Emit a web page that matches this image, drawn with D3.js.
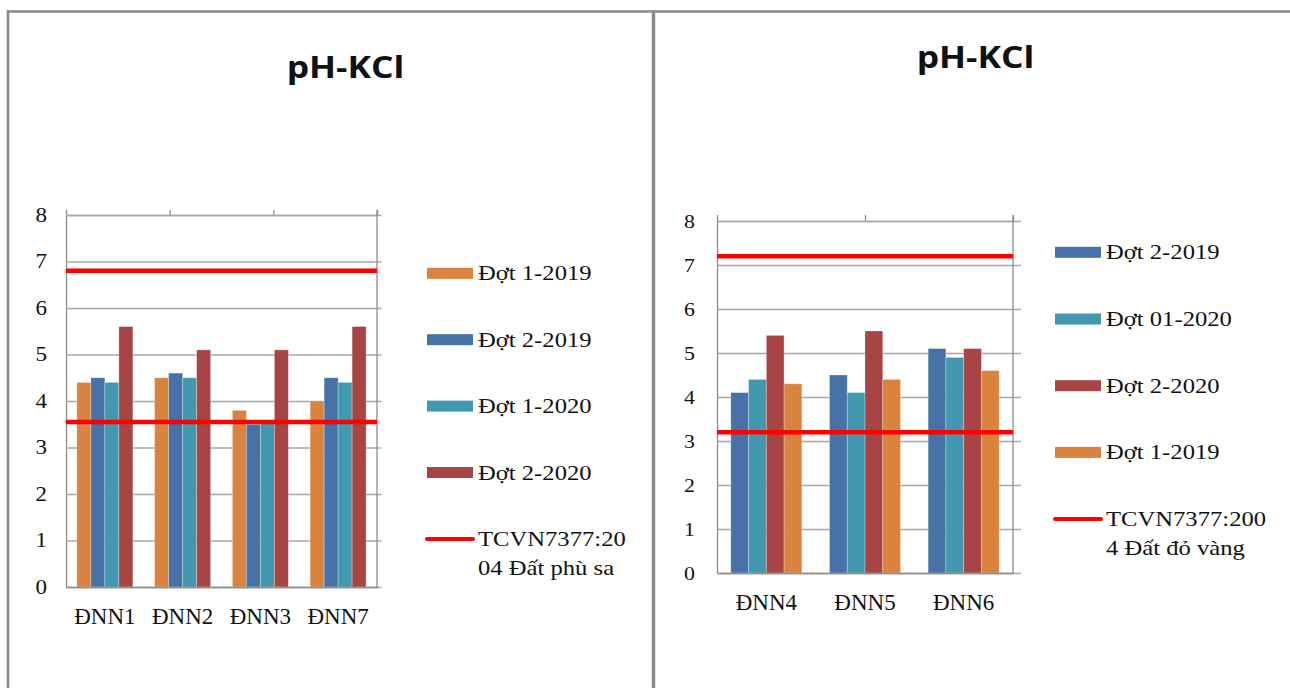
<!DOCTYPE html>
<html>
<head>
<meta charset="utf-8">
<style>
  body { margin: 0; background: #fff; }
  svg { display: block; }
  .tick text { font-family: "Liberation Serif", "Times New Roman", serif; fill: #111; }
</style>
</head>
<body>
<svg id="chart" width="1290" height="688"></svg>
<script src="https://d3js.org/d3.v7.min.js"></script>
<script>
// left chart data
const leftCategories = ['ĐNN1', 'ĐNN2', 'ĐNN3', 'ĐNN7'];
const leftSeries = ['Đợt 1-2019', 'Đợt 2-2019', 'Đợt 1-2020', 'Đợt 2-2020'];
const leftDot1_2019 = [4.4, 4.5, 3.8, 4.0];
const leftDot2_2019 = [4.5, 4.6, 3.5, 4.5];
const leftDot1_2020 = [4.4, 4.5, 3.55, 4.4];
const leftDot2_2020 = [5.6, 5.1, 5.1, 5.6];
const leftLimits = [6.8, 3.55];
const leftLimitLabel = ['TCVN7377:20', '04 Đất phù sa'];

// right chart data
const rightCategories = ['ĐNN4', 'ĐNN5', 'ĐNN6'];
const rightSeries = ['Đợt 2-2019', 'Đợt 01-2020', 'Đợt 2-2020', 'Đợt 1-2019'];
const rightDot2_2019 = [4.1, 4.5, 5.1];
const rightDot01_2020 = [4.4, 4.1, 4.9];
const rightDot2_2020 = [5.4, 5.5, 5.1];
const rightDot1_2019 = [4.3, 4.4, 4.6];
const rightLimits = [7.2, 3.2];
const rightLimitLabel = ['TCVN7377:200', '4 Đất đỏ vàng'];

const yTicks = [0, 1, 2, 3, 4, 5, 6, 7, 8];
const chartTitle = 'pH-KCl';

const ORANGE = '#DA833F', BLUE = '#4672A7', TEAL = '#4299AF', RED = '#A74545';
const LIMIT = '#FF0000';
const serif = '"Liberation Serif", "Times New Roman", serif';

const svg = d3.select('#chart');
svg.append('rect').attr('width', 1290).attr('height', 688).attr('fill', '#fff');

// khung 2 panel
const border = svg.append('g').attr('stroke', '#8a8a8a').attr('stroke-width', 2.6);
border.append('line').attr('x1', 7).attr('x2', 1290).attr('y1', 11.5).attr('y2', 11.5);
border.append('line').attr('x1', 8).attr('x2', 8).attr('y1', 10.5).attr('y2', 688);
border.append('line').attr('x1', 653.5).attr('x2', 653.5).attr('y1', 10.5).attr('y2', 688).attr('stroke-width', 3.4);

function drawChart(cfg) {
  const g = svg.append('g');

  const x = d3.scaleBand()
              .domain(cfg.categories)
              .range([cfg.left, cfg.right])
              .paddingInner(0.28)
              .paddingOuter(0.14);
  const xs = d3.scaleBand()
               .domain(d3.range(cfg.series.length))
               .range([0, x.bandwidth()]);
  const y = d3.scaleLinear().domain([0, 8]).range([cfg.bottom, cfg.top]);
  // truc phu cho duong gioi han (n-1 khoang)
  const x2 = d3.scaleLinear()
               .domain([0, cfg.categories.length - 1])
               .range([cfg.left, cfg.right]);

  // luoi + nhan truc y
  const yAxis = g.append('g')
    .attr('transform', `translate(${cfg.left},0)`)
    .call(d3.axisLeft(y).tickValues(yTicks).tickSize(-(cfg.right - cfg.left + cfg.ext))
            .tickSizeOuter(0).tickPadding(cfg.yPad).tickFormat(d3.format('d')));
  yAxis.select('.domain').attr('stroke', '#8c8c8c').attr('stroke-width', 1.3);
  yAxis.selectAll('.tick line').attr('stroke', '#a8a8a8').attr('stroke-width', 1.3);
  yAxis.selectAll('.tick text')
       .attr('font-size', cfg.yFont)
       .attr('x', -cfg.yPad / 1.15)
       .attr('transform', 'scale(1.15,1)');

  // truc tren (truc phu)
  const topAxis = g.append('g')
    .attr('transform', `translate(0,${cfg.top})`)
    .call(d3.axisTop(x2).tickValues(d3.range(cfg.categories.length)).tickSize(cfg.topTick)
            .tickSizeOuter(0).tickFormat(''));
  topAxis.select('.domain').attr('stroke', '#a8a8a8').attr('stroke-width', 1.3);
  topAxis.selectAll('.tick line').attr('stroke', '#8c8c8c').attr('stroke-width', 1.3);

  // truc phai
  g.append('line')
   .attr('x1', cfg.right).attr('x2', cfg.right)
   .attr('y1', y(8) - cfg.topTick).attr('y2', y(0))
   .attr('stroke', '#8c8c8c').attr('stroke-width', 1.3);

  // cot
  const groups = g.selectAll('g.cat')
    .data(cfg.categories)
    .join('g')
    .attr('class', 'cat')
    .attr('transform', d => `translate(${x(d)},0)`);

  groups.selectAll('rect')
    .data((d, ci) => cfg.values.map((vals, si) => ({ si, v: vals[ci] })))
    .join('rect')
    .attr('x', d => xs(d.si))
    .attr('width', xs.bandwidth())
    .attr('y', d => y(d.v))
    .attr('height', d => y(0) - y(d.v))
    .attr('fill', d => cfg.colors[d.si])
    .attr('stroke', '#fff')
    .attr('stroke-opacity', 0.35)
    .attr('stroke-width', 0.8);

  // truc duoi
  const xAxis = g.append('g')
    .attr('transform', `translate(0,${cfg.bottom})`)
    .call(d3.axisBottom(x).tickSize(0).tickPadding(21));
  xAxis.select('.domain').attr('stroke', '#8c8c8c').attr('stroke-width', 1.3);
  xAxis.selectAll('.tick text').attr('font-size', 23);

  // duong gioi han
  const line = d3.line()
                 .x((d, i) => x2(i))
                 .y(d => y(d));
  cfg.limits.forEach(lim => {
    g.append('path')
     .attr('d', line(cfg.categories.map(() => lim)))
     .attr('stroke', LIMIT)
     .attr('stroke-width', 4.5)
     .attr('fill', 'none');
  });

  // tieu de
  g.append('text')
   .attr('transform', `translate(${cfg.titleX},${cfg.titleY}) scale(1.18,1)`)
   .attr('text-anchor', 'middle')
   .attr('font-family', '"Open Sans", sans-serif')
   .attr('font-weight', 700)
   .attr('font-size', 30)
   .attr('fill', '#111')
   .text(chartTitle);

  // chu giai
  const leg = g.append('g').attr('font-family', serif).attr('font-size', 22).attr('fill', '#111');
  cfg.series.forEach((s, i) => {
    const cy = cfg.legTop + i * cfg.legStep;
    leg.append('rect')
       .attr('x', cfg.legX).attr('y', cy - 5.5)
       .attr('width', 46).attr('height', 11)
       .attr('fill', cfg.colors[i]);
    leg.append('text')
       .attr('transform', `translate(${cfg.legX + 51},${cy + 7}) scale(1.12,1)`)
       .text(s);
  });
  const cyL = cfg.legTop + cfg.series.length * cfg.legStep;
  leg.append('line')
     .attr('x1', cfg.legX).attr('x2', cfg.legX + 46)
     .attr('y1', cyL).attr('y2', cyL)
     .attr('stroke', LIMIT).attr('stroke-width', 4)
     .attr('stroke-linecap', 'round');
  cfg.limitLabel.forEach((t, i) => {
    leg.append('text')
       .attr('transform', `translate(${cfg.legX + 51},${cyL + 7 + i * 29}) scale(1.12,1)`)
       .text(t);
  });
}

drawChart({
  categories: leftCategories,
  series: leftSeries,
  values: [leftDot1_2019, leftDot2_2019, leftDot1_2020, leftDot2_2020],
  colors: [ORANGE, BLUE, TEAL, RED],
  limits: leftLimits,
  limitLabel: leftLimitLabel,
  left: 66, right: 377, top: 215, bottom: 587,
  ext: 4.5, topTick: 5, yPad: 19, yFont: 20,
  titleX: 345.5, titleY: 77.5,
  legX: 427, legTop: 273.3, legStep: 66.4
});

drawChart({
  categories: rightCategories,
  series: rightSeries,
  values: [rightDot2_2019, rightDot01_2020, rightDot2_2020, rightDot1_2019],
  colors: [BLUE, TEAL, RED, ORANGE],
  limits: rightLimits,
  limitLabel: rightLimitLabel,
  left: 717, right: 1013, top: 221, bottom: 573,
  ext: 8, topTick: 6, yPad: 22, yFont: 19,
  titleX: 975.5, titleY: 67.5,
  legX: 1055, legTop: 252.3, legStep: 66.7
});
</script>
</body>
</html>
